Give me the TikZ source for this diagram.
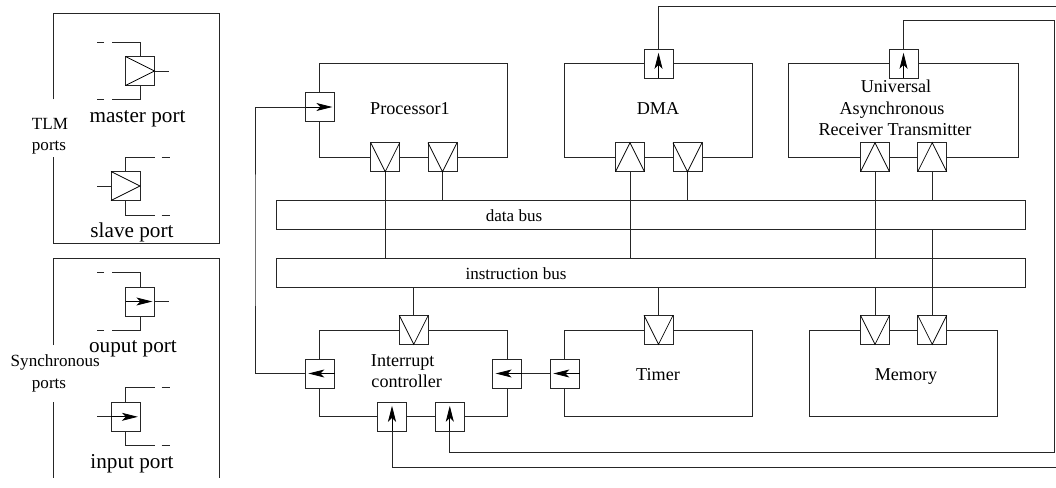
\documentclass[tikz,border=0pt]{standalone}
\usepackage{fontspec}
\setmainfont{Liberation Serif}
\usetikzlibrary{arrows.meta}
\tikzset{
  x=0.75pt,y=0.75pt,
  line/.style={draw=black!85,line width=0.68pt,line join=miter},
  portbox/.style={draw=black!85,line width=0.68pt,fill=white,minimum size=21.75pt,inner sep=0pt,outer sep=0pt},
  block/.style={draw=black!85,line width=0.68pt,inner sep=0pt,outer sep=0pt},
  tri/.style={draw=black,line width=0.55pt,line join=miter},
  tip/.style={draw=black,line width=0.6pt,-{Stealth[length=12pt,width=6pt,inset=3pt]}},
  lab/.style={inner sep=0pt,anchor=base,font=\fontsize{13.6pt}{15pt}\selectfont},
  biglab/.style={inner sep=0pt,anchor=base,font=\fontsize{15.9pt}{18pt}\selectfont},
  sidelab/.style={inner sep=0pt,anchor=base,font=\fontsize{12.8pt}{15pt}\selectfont},
}
\newcommand\trid[1]{\draw[tri] (#1.north west)--(#1.south)--(#1.north east);}
\newcommand\triu[1]{\draw[tri] (#1.south west)--(#1.north)--(#1.south east);}
\newcommand\trir[1]{\draw[tri] (#1.north west)--(#1.east)--(#1.south west);}
\newcommand\tipu[1]{\draw[tip] (#1.south)--([yshift=-2.6pt]#1.north);}
\newcommand\tipl[1]{\draw[tip] (#1.east)--([xshift=2.2pt]#1.west);}
\newcommand\tipr[1]{\draw[tip] (#1.west)--([xshift=-1.6pt]#1.east);}
\begin{document}
\begin{tikzpicture}
\clip (0,0) rectangle (1056,-487);
% legend frames
\draw[line] (53.3,-99.3)--(53.3,-13.3)--(219.3,-13.3)--(219.3,-243.3)--(53.3,-243.3)--(53.3,-157.3);
\draw[line] (53.3,-345)--(53.3,-258)--(219.3,-258)--(219.3,-478);
\draw[line] (53.3,-402)--(53.3,-478);
% legend ports
\node[portbox] (mp) at (140,-71) {};
\node[portbox] (sp) at (125.5,-186) {};
\node[portbox] (op) at (140,-301.5) {};
\node[portbox] (ip) at (125.5,-416.8) {};
\draw[line] (mp.north)--++(0,14.5)--++(-28.3,0) ++(-7.7,0)--++(-7,0);
\draw[line] (mp.south)--++(0,-14)--++(-28.3,0) ++(-7.7,0)--++(-7,0);
\draw[line] (mp.east)--++(14.5,0);
\draw[line] (sp.north)--++(0,14.5)--++(29,0) ++(7,0)--++(8,0);
\draw[line] (sp.south)--++(0,-14.5)--++(29,0) ++(7,0)--++(8,0);
\draw[line] (sp.west)--++(-14.5,0);
\draw[line] (op.north)--++(0,14.5)--++(-28.3,0) ++(-7.7,0)--++(-7,0);
\draw[line] (op.south)--++(0,-14.5)--++(-28.3,0) ++(-7.7,0)--++(-7,0);
\draw[line] (op.east)--++(14.5,0);
\draw[line] (ip.north)--++(0,14.5)--++(29,0) ++(7,0)--++(8,0);
\draw[line] (ip.south)--++(0,-14.5)--++(29,0) ++(7,0)--++(8,0);
\draw[line] (ip.west)--++(-14.5,0);
\trir{mp}\trir{sp}\tipr{op}\tipr{ip}
\node[biglab] (l1) at (137.5,-122) {master port};
\node[biglab] (l2) at (132,-237.2) {slave port};
\node[biglab] (l3) at (133,-352.7) {ouput port};
\node[biglab] (l4) at (132,-468) {input port};
\node[sidelab] (l5) at (50,-129.3) {TLM};
\node[sidelab] (l6) at (49,-150) {ports};
\node[sidelab] (l7) at (55.3,-366) {Synchronous};
\node[sidelab] (l8) at (49,-388.5) {ports};
% buses
\node[block,minimum width=561.75pt,minimum height=21.75pt] (data) at (651.2,-214.8) {};
\node[block,minimum width=561.75pt,minimum height=21.75pt] (instr) at (651.2,-272.5) {};
\node[sidelab] (dl) at (514,-221.7) {data bus};
\node[sidelab] (il) at (516,-279) {instruction bus};
% blocks
\node[block,minimum width=140.6pt,minimum height=70.1pt] (proc) at (413.6,-110.4) {};
\node[block,minimum width=140.5pt,minimum height=70.1pt] (dma) at (658.6,-110.4) {};
\node[block,minimum width=172.8pt,minimum height=70.1pt] (uart) at (903.5,-110.4) {};
\node[block,minimum width=140.6pt,minimum height=64.8pt] (irq) at (413.6,-373.5) {};
\node[block,minimum width=140.5pt,minimum height=64.8pt] (timer) at (658.6,-373.5) {};
\node[block,minimum width=140.7pt,minimum height=65pt] (mem) at (903.5,-373.5) {};
% ports
\node[portbox] (pI) at (320,-107) {};
\node[portbox] (pA) at (385.2,-157.2) {};
\node[portbox] (pB) at (442.5,-157.2) {};
\node[portbox] (dT) at (658.5,-63.8) {};
\node[portbox] (dA) at (630,-157.2) {};
\node[portbox] (dB) at (687.5,-157.2) {};
\node[portbox] (uT) at (903.5,-63.8) {};
\node[portbox] (uA) at (875,-157.2) {};
\node[portbox] (uB) at (932.2,-157.2) {};
\node[portbox] (iT) at (413.8,-329.8) {};
\node[portbox] (iL) at (320,-373.5) {};
\node[portbox] (iR) at (507.2,-373.5) {};
\node[portbox] (iA) at (392,-416.8) {};
\node[portbox] (iB) at (449.8,-416.8) {};
\node[portbox] (tT) at (658.5,-329.8) {};
\node[portbox] (tL) at (565,-373.5) {};
\node[portbox] (mA) at (875,-329.8) {};
\node[portbox] (mB) at (932.2,-329.8) {};
% connectors
\coordinate (lft) at (255,-240);
\coordinate (rt1) at (1064,-6);
\coordinate (rb1) at (1064,-467);
\coordinate (rt2) at (1054.7,-20.7);
\coordinate (rb2) at (1054.7,-452.5);
\draw[line] (iL.west) -| (lft) |- (pI.west);
\draw[line] (tL.west) -- (iR.east);
\draw[line] (dT.north) |- (rt1) -- (rb1) -| (iA.south);
\draw[line] (uT.north) |- (rt2) -- (rb2) -| (iB.south);
\draw[line] (pA.south) -- (pA.south |- instr.north);
\draw[line] (pB.south) -- (pB.south |- data.north);
\draw[line] (dA.south) -- (dA.south |- instr.north);
\draw[line] (dB.south) -- (dB.south |- data.north);
\draw[line] (uA.south) -- (uA.south |- instr.north);
\draw[line] (uB.south) -- (uB.south |- data.north);
\draw[line] (iT.north) -- (iT.north |- instr.south);
\draw[line] (tT.north) -- (tT.north |- instr.south);
\draw[line] (mA.north) -- (mA.north |- instr.south);
\draw[line] (mB.north) -- (mB.north |- data.south);
% port glyphs
\tipr{pI}\tipu{dT}\tipu{uT}\tipu{iA}\tipu{iB}\tipl{iL}\tipl{iR}\tipl{tL}
\trid{pA}\trid{pB}\triu{dA}\trid{dB}\triu{uA}\triu{uB}\trid{iT}\trid{tT}\trid{mA}\trid{mB}
% labels
\node[lab] (t1) at (410,-114) {Processor1};
\node[lab] (t2) at (658,-114) {DMA};
\node[lab] (t3) at (896,-92.7) {Universal};
\node[lab] (t4) at (892,-114) {Asynchronous};
\node[lab] (t5) at (895,-135.7) {Receiver Transmitter};
\node[lab] (t6) at (402.7,-366.7) {Interrupt};
\node[lab] (t7) at (406.7,-387.7) {controller};
\node[lab] (t8) at (658,-380.5) {Timer};
\node[lab] (t9) at (906,-380.7) {Memory};
\end{tikzpicture}
\end{document}
